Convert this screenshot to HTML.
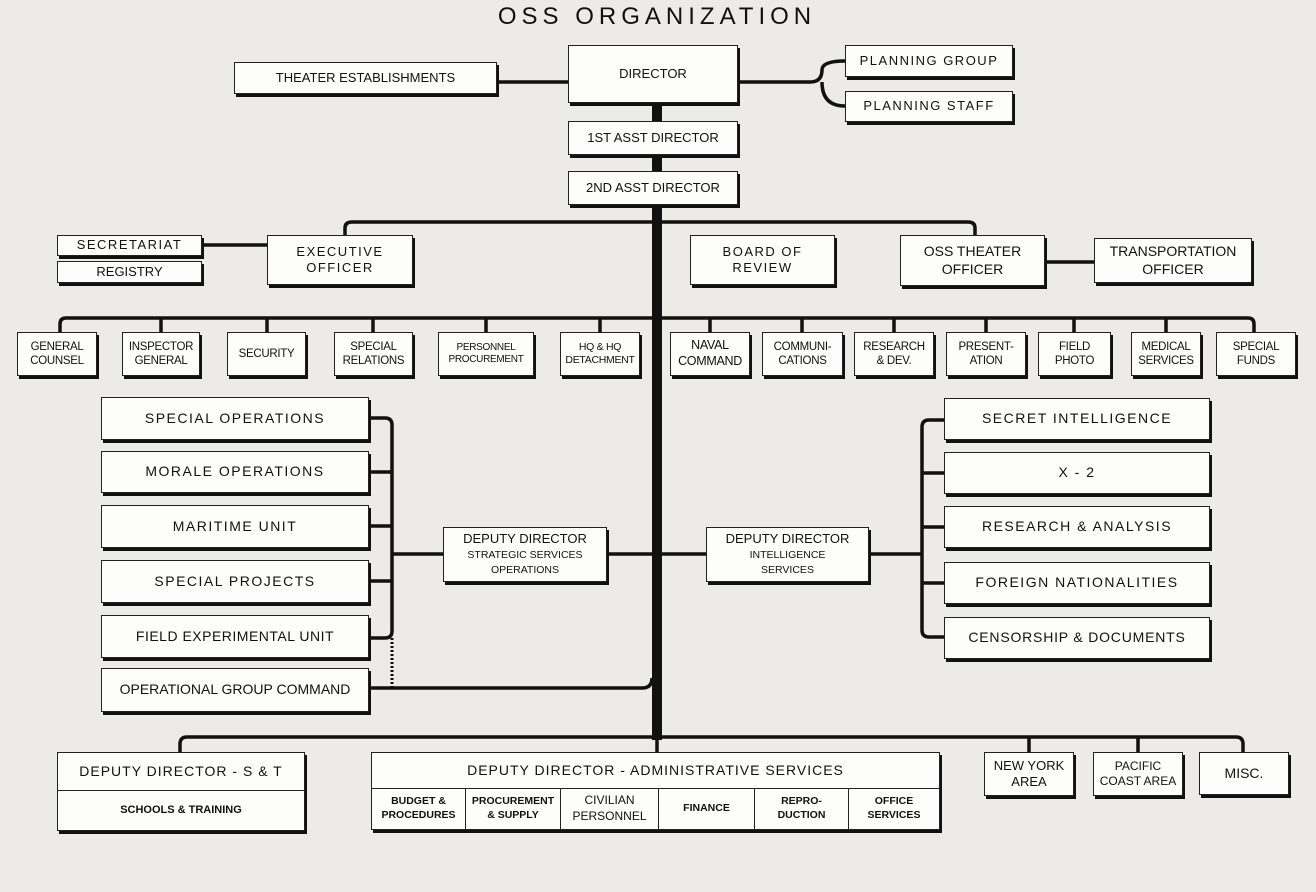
<!DOCTYPE html>
<html><head><meta charset="utf-8"><style>
body{margin:0;width:1316px;height:892px;background:#ecebe7;position:relative;overflow:hidden;font-family:"Liberation Sans",sans-serif;color:#111}
.b{position:absolute;background:#fdfdfb;border:1.5px solid #222;box-shadow:2px 3px 0 #111;display:flex;align-items:center;justify-content:center;text-align:center;font-size:13px;line-height:1.25;box-sizing:border-box}
.s{font-size:11.5px;letter-spacing:-0.3px}
.w{letter-spacing:1.5px;font-size:14px}
svg{position:absolute;left:0;top:0}
</style></head><body>
<svg width="1316" height="892" fill="none" stroke="#111">
<line x1="657" y1="100" x2="657" y2="740" stroke-width="10"/>
<g stroke-width="3.5">
<path d="M497 82H568M738 82H810Q822 82 822 70Q822 61 845 61M822 82Q822 106 845 106"/>
<path d="M345 235V228Q345 222 352 222H968Q975 222 975 228V235"/>
<line x1="202" y1="245" x2="267" y2="245"/><line x1="1045" y1="262" x2="1094" y2="262"/>
<path d="M60 332V324Q60 318 66 318H1248Q1254 318 1254 324V332"/>
<path d="M161 318V332M267 318V332M373 318V332M486 318V332M600 318V332M710 318V332M802 318V332M894 318V332M986 318V332M1074 318V332M1166 318V332"/>
<path d="M369 418H385Q392 418 392 425V631Q392 638 385 638H369M369 472H392M369 526H392M369 581H392M392 554H443M607 554H652"/>
<path d="M369 688H642Q652 688 652 678"/>
<path d="M944 420H929Q922 420 922 427V630Q922 637 929 637H944M944 473H922M944 527H922M944 583H922M922 554H869M706 554H662"/>
<path d="M180 752V744Q180 737 187 737H1236Q1243 737 1243 744V752M1029 737V752M1138 737V752M657 737V752"/>
</g>
<line x1="392" y1="638" x2="392" y2="687" stroke-width="3" stroke-dasharray="2 2"/>
</svg>
<div style="position:absolute;left:407px;top:3px;width:500px;text-align:center;font-size:24px;letter-spacing:5px">OSS ORGANIZATION</div>
<div class="b" style="left:568px;top:45px;width:170px;height:58px">DIRECTOR</div>
<div class="b" style="left:234px;top:62px;width:263px;height:32px">THEATER ESTABLISHMENTS</div>
<div class="b w" style="left:845px;top:45px;width:168px;height:32px;font-size:13px">PLANNING GROUP</div>
<div class="b w" style="left:845px;top:91px;width:168px;height:31px;font-size:13px">PLANNING STAFF</div>
<div class="b" style="left:568px;top:121px;width:170px;height:34px">1ST ASST DIRECTOR</div>
<div class="b" style="left:568px;top:171px;width:170px;height:34px">2ND ASST DIRECTOR</div>
<div class="b w" style="left:57px;top:235px;width:145px;height:21px;font-size:13px">SECRETARIAT</div>
<div class="b" style="left:57px;top:261px;width:145px;height:22px">REGISTRY</div>
<div class="b w" style="left:267px;top:235px;width:146px;height:50px;font-size:13px">EXECUTIVE<br>OFFICER</div>
<div class="b w" style="left:690px;top:235px;width:145px;height:50px;font-size:13px">BOARD OF<br>REVIEW</div>
<div class="b" style="left:900px;top:235px;width:145px;height:51px;font-size:14px">OSS THEATER<br>OFFICER</div>
<div class="b" style="left:1094px;top:238px;width:158px;height:45px;font-size:14px">TRANSPORTATION<br>OFFICER</div>
<div class="b s" style="left:17px;top:332px;width:80px;height:44px">GENERAL<br>COUNSEL</div>
<div class="b s" style="left:122px;top:332px;width:78px;height:44px">INSPECTOR<br>GENERAL</div>
<div class="b s" style="left:227px;top:332px;width:79px;height:44px">SECURITY</div>
<div class="b s" style="left:334px;top:332px;width:79px;height:44px">SPECIAL<br>RELATIONS</div>
<div class="b s" style="left:438px;top:332px;width:96px;height:44px;font-size:10px">PERSONNEL<br>PROCUREMENT</div>
<div class="b s" style="left:560px;top:332px;width:80px;height:44px;font-size:10.5px">HQ &amp; HQ<br>DETACHMENT</div>
<div class="b s" style="left:670px;top:332px;width:80px;height:44px;font-size:12.5px">NAVAL<br>COMMAND</div>
<div class="b s" style="left:762px;top:332px;width:81px;height:44px">COMMUNI-<br>CATIONS</div>
<div class="b s" style="left:854px;top:332px;width:80px;height:44px">RESEARCH<br>&amp; DEV.</div>
<div class="b s" style="left:946px;top:332px;width:80px;height:44px">PRESENT-<br>ATION</div>
<div class="b s" style="left:1038px;top:332px;width:73px;height:44px">FIELD<br>PHOTO</div>
<div class="b s" style="left:1131px;top:332px;width:70px;height:44px">MEDICAL<br>SERVICES</div>
<div class="b s" style="left:1216px;top:332px;width:80px;height:44px">SPECIAL<br>FUNDS</div>
<div class="b w" style="left:101px;top:397px;width:268px;height:43px">SPECIAL OPERATIONS</div>
<div class="b w" style="left:101px;top:451px;width:268px;height:42px">MORALE OPERATIONS</div>
<div class="b w" style="left:101px;top:505px;width:268px;height:43px">MARITIME UNIT</div>
<div class="b w" style="left:101px;top:560px;width:268px;height:43px">SPECIAL PROJECTS</div>
<div class="b" style="left:101px;top:615px;width:268px;height:43px;font-size:14px;letter-spacing:.5px">FIELD EXPERIMENTAL UNIT</div>
<div class="b" style="left:101px;top:668px;width:268px;height:44px;font-size:14px">OPERATIONAL GROUP COMMAND</div>
<div class="b" style="left:443px;top:527px;width:164px;height:55px"><div style="font-size:13px;line-height:1.15">DEPUTY DIRECTOR<br><span style="font-size:10.5px">STRATEGIC SERVICES<br>OPERATIONS</span></div></div>
<div class="b" style="left:706px;top:527px;width:163px;height:55px"><div style="font-size:13px;line-height:1.15">DEPUTY DIRECTOR<br><span style="font-size:10.5px">INTELLIGENCE<br>SERVICES</span></div></div>
<div class="b w" style="left:944px;top:398px;width:266px;height:42px">SECRET INTELLIGENCE</div>
<div class="b w" style="left:944px;top:452px;width:266px;height:42px">X - 2</div>
<div class="b w" style="left:944px;top:506px;width:266px;height:42px">RESEARCH &amp; ANALYSIS</div>
<div class="b w" style="left:944px;top:562px;width:266px;height:42px">FOREIGN NATIONALITIES</div>
<div class="b" style="left:944px;top:617px;width:266px;height:42px;font-size:14px;letter-spacing:.8px">CENSORSHIP &amp; DOCUMENTS</div>
<div class="b" style="left:57px;top:752px;width:248px;height:79px;flex-direction:column;align-items:stretch">
<div style="flex:0 0 37px;display:flex;align-items:center;justify-content:center;border-bottom:1.5px solid #222;font-size:14px;letter-spacing:1px">DEPUTY DIRECTOR - S &amp; T</div>
<div style="flex:1;display:flex;align-items:center;justify-content:center;font-size:11px;font-weight:bold">SCHOOLS &amp; TRAINING</div></div>
<div class="b" style="left:371px;top:752px;width:569px;height:78px;flex-direction:column;align-items:stretch">
<div style="flex:0 0 35px;display:flex;align-items:center;justify-content:center;border-bottom:1.5px solid #222;font-size:14px;letter-spacing:1px">DEPUTY DIRECTOR - ADMINISTRATIVE SERVICES</div>
<div style="flex:1;display:flex;font-size:10.5px;font-weight:bold;line-height:1.3">
<div style="width:93px;border-right:1.5px solid #222;display:flex;align-items:center;justify-content:center">BUDGET &amp;<br>PROCEDURES</div>
<div style="width:94px;border-right:1.5px solid #222;display:flex;align-items:center;justify-content:center">PROCUREMENT<br>&amp; SUPPLY</div>
<div style="width:97px;border-right:1.5px solid #222;display:flex;align-items:center;justify-content:center;font-weight:normal;font-size:12px">CIVILIAN<br>PERSONNEL</div>
<div style="width:95px;border-right:1.5px solid #222;display:flex;align-items:center;justify-content:center">FINANCE</div>
<div style="width:93px;border-right:1.5px solid #222;display:flex;align-items:center;justify-content:center">REPRO-<br>DUCTION</div>
<div style="flex:1;display:flex;align-items:center;justify-content:center">OFFICE<br>SERVICES</div>
</div></div>
<div class="b" style="left:984px;top:752px;width:90px;height:44px;font-size:13px">NEW YORK<br>AREA</div>
<div class="b" style="left:1093px;top:752px;width:90px;height:44px;font-size:12px">PACIFIC<br>COAST AREA</div>
<div class="b" style="left:1199px;top:752px;width:90px;height:43px;font-size:14px">MISC.</div>
</body></html>
